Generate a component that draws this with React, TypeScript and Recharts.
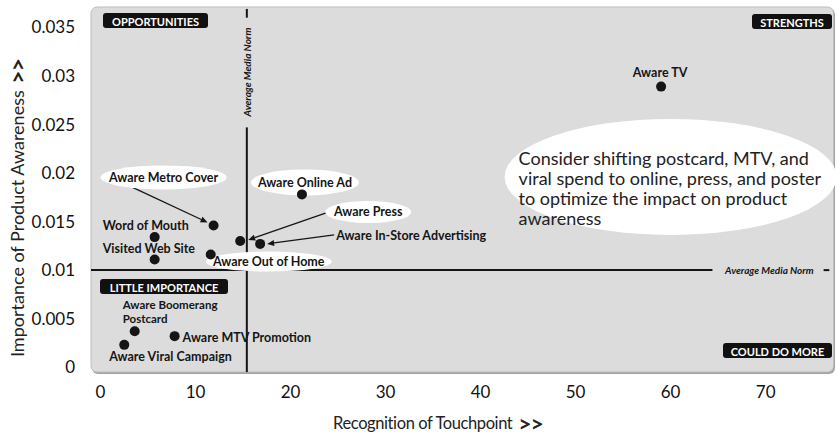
import React from 'react'
import { ScatterChart, Scatter, XAxis, YAxis, ReferenceArea, ReferenceLine, ReferenceDot } from 'recharts'

const touchpoints = [
  'Aware TV',
  'Aware Online Ad',
  'Aware Metro Cover',
  'Word of Mouth',
  'Visited Web Site',
  'Aware Press',
  'Aware In-Store Advertising',
  'Aware Out of Home',
  'Aware Boomerang Postcard',
  'Aware MTV Promotion',
  'Aware Viral Campaign',
]
const recognition = [59.0, 21.2, 11.9, 5.7, 5.7, 14.7, 16.8, 11.6, 3.6, 7.8, 2.5]
const importance = [0.0289, 0.0178, 0.0146, 0.0134, 0.0111, 0.013, 0.0127, 0.0116, 0.0037, 0.0032, 0.0023]

const xTicks = [0, 10, 20, 30, 40, 50, 60, 70]
const yTicks = [0, 0.005, 0.01, 0.015, 0.02, 0.025, 0.03, 0.035]
const normRecognition = 15.4
const normImportance = 0.01
const noteLines = [
  'Consider shifting postcard, MTV, and',
  'viral spend to online, press, and poster',
  'to optimize the impact on product',
  'awareness',
]

const X_DOMAIN: [number, number] = [-1, 77.3]
const Y_DOMAIN: [number, number] = [-0.0007, 0.0371]

const data = touchpoints.map((name, i) => ({ name, x: recognition[i], y: importance[i] }))

// label placement around each dot, in pixels
type Callout = {
  dx: number
  dy: number
  anchor?: 'start' | 'middle'
  lines?: string[]
  bubble?: [number, number]
  arrow?: [number, number, number, number]
}
const callouts: Record<string, Callout> = {
  'Aware TV': { dx: -1, dy: -14 },
  'Aware Online Ad': { dx: 3, dy: -12, bubble: [54, 13] },
  'Aware Metro Cover': { dx: -50, dy: -48, bubble: [63, 12], arrow: [-81, -38, -6, -3] },
  'Word of Mouth': { dx: -52, dy: -12, anchor: 'start' },
  'Visited Web Site': { dx: -52, dy: -11, anchor: 'start' },
  'Aware Press': { dx: 128, dy: -29, bubble: [43, 11], arrow: [86, -28, 8, -1] },
  'Aware In-Store Advertising': { dx: 76, dy: -8, anchor: 'start', arrow: [74, -9, 7, 0] },
  'Aware Out of Home': { dx: 58, dy: 7, bubble: [63, 10] },
  'Aware Boomerang Postcard': { dx: -12, dy: -27, anchor: 'start', lines: ['Aware Boomerang', 'Postcard'] },
  'Aware MTV Promotion': { dx: 8, dy: 1, anchor: 'start' },
  'Aware Viral Campaign': { dx: -15, dy: 12, anchor: 'start' },
}

const FONT = 'Lato, "Open Sans", sans-serif'
const INK = '#151515'

const Arrow = ({ x1, y1, x2, y2 }: { x1: number; y1: number; x2: number; y2: number }) => {
  const a = Math.atan2(y2 - y1, x2 - x1)
  const len = 7
  const w = 3
  const bx = x2 - len * Math.cos(a)
  const by = y2 - len * Math.sin(a)
  const px = -Math.sin(a) * w
  const py = Math.cos(a) * w
  return (
    <g>
      <line x1={x1} y1={y1} x2={bx} y2={by} stroke={INK} strokeWidth={1.3} />
      <polygon points={`${x2},${y2} ${bx + px},${by + py} ${bx - px},${by - py}`} fill={INK} />
    </g>
  )
}

const TouchpointMark = (props: any) => {
  const { cx, cy, payload } = props
  const c = callouts[payload.name]
  const lines = c.lines ?? [payload.name]
  const tx = cx + c.dx
  const ty = cy + c.dy
  return (
    <g>
      {c.arrow && <Arrow x1={cx + c.arrow[0]} y1={cy + c.arrow[1]} x2={cx + c.arrow[2]} y2={cy + c.arrow[3]} />}
      {c.bubble && <ellipse cx={tx} cy={ty} rx={c.bubble[0]} ry={c.bubble[1]} fill="#fff" />}
      {lines.map((l, i) => (
        <text
          key={l}
          x={tx}
          y={ty + i * 14}
          textAnchor={c.anchor ?? 'middle'}
          dominantBaseline="central"
          fontFamily={FONT}
          fontWeight={700}
          fontSize={lines.length > 1 ? 11.5 : 12.5}
          fill={INK}
        >
          {l}
        </text>
      ))}
      <circle cx={cx} cy={cy} r={5} fill={INK} />
    </g>
  )
}

const Panel = (props: any) => {
  const { x, y, width, height } = props
  return (
    <g>
      <rect x={x + 1} y={y + 1.5} width={width - 1} height={height - 1.5} rx={6} fill="#a3a3a3" />
      <rect x={x} y={y} width={width - 1.5} height={height - 2} rx={6} fill="#dcdcdc" stroke="#bdbdbd" />
    </g>
  )
}

const tag = (text: string, w: number, ox: number, oy: number) => (props: any) => {
  const x = props.cx + ox
  const y = props.cy + oy
  return (
    <g>
      <rect x={x} y={y} width={w} height={15} rx={3} fill="#111" />
      <text
        x={x + w / 2}
        y={y + 8}
        textAnchor="middle"
        dominantBaseline="central"
        fontFamily={FONT}
        fontWeight={700}
        fontSize={11}
        fill="#fff"
      >
        {text}
      </text>
    </g>
  )
}

const NormText = ({ cx, cy, vertical }: any) => (
  <text
    x={cx}
    y={cy}
    transform={vertical ? `rotate(-90 ${cx} ${cy})` : undefined}
    textAnchor="middle"
    dominantBaseline="central"
    fontFamily={FONT}
    fontStyle="italic"
    fontWeight={700}
    fontSize={10}
    fill={INK}
  >
    Average Media Norm
  </text>
)

const Note = (props: any) => {
  const { cx, cy } = props
  return (
    <g>
      <ellipse cx={cx} cy={cy} rx={166} ry={58} fill="#fff" />
      {noteLines.map((l, i) => (
        <text key={l} x={cx - 152} y={cy - 19 + i * 20} fontFamily={FONT} fontSize={18} fill="#222" dominantBaseline="central">
          {l}
        </text>
      ))}
    </g>
  )
}

const XTitle = ({ viewBox }: any) => {
  const vb = viewBox ?? { x: 91, y: 374, width: 744 }
  return (
    <text
      x={438}
      y={vb.y + 49}
      textAnchor="middle"
      dominantBaseline="central"
      fontFamily={FONT}
      fontSize={16.5}
      letterSpacing={-0.4}
      fill="#222"
    >
      Recognition of Touchpoint{' '}
      <tspan fontWeight={700} fontSize={23} dx={2} letterSpacing={-1}>
        {'>>'}
      </tspan>
    </text>
  )
}

const YTitle = () => (
  <text
    x={17}
    y={208}
    transform="rotate(-90 17 208)"
    textAnchor="middle"
    dominantBaseline="central"
    fontFamily={FONT}
    fontSize={18}
    fill="#222"
  >
    Importance of Product Awareness{' '}
    <tspan fontWeight={700} fontSize={23} dx={2} letterSpacing={-1}>
      {'>>'}
    </tspan>
  </text>
)

export default function App() {
  return (
    <div style={{ position: 'absolute', left: 0, top: 0, width: 838, height: 437, background: '#fff' }}>
      <ScatterChart width={838} height={437} margin={{ top: 7, right: 3, bottom: 0, left: 0 }} style={{ fontFamily: FONT }}>
        <XAxis
          type="number"
          dataKey="x"
          domain={X_DOMAIN}
          ticks={xTicks}
          allowDataOverflow
          axisLine={false}
          tickLine={false}
          tickSize={0}
          tickMargin={12}
          height={63}
          tick={{ fill: '#111', fontSize: 17, fontFamily: FONT }}
          label={<XTitle />}
        />
        <YAxis
          type="number"
          dataKey="y"
          domain={Y_DOMAIN}
          ticks={yTicks}
          allowDataOverflow
          axisLine={false}
          tickLine={false}
          tickSize={0}
          tickMargin={16}
          width={91}
          tick={{ fill: '#111', fontSize: 17, fontFamily: FONT }}
          label={<YTitle />}
        />
        <ReferenceArea x1={X_DOMAIN[0]} x2={X_DOMAIN[1]} y1={Y_DOMAIN[0]} y2={Y_DOMAIN[1]} ifOverflow="visible" shape={Panel} />
        <ReferenceLine
          segment={[{ x: normRecognition, y: 0.0369 }, { x: normRecognition, y: 0.036 }]}
          stroke={INK}
          strokeWidth={2}
          ifOverflow="visible"
        />
        <ReferenceLine
          segment={[{ x: normRecognition, y: 0.0247 }, { x: normRecognition, y: -0.0005 }]}
          stroke={INK}
          strokeWidth={2}
          ifOverflow="visible"
        />
        <ReferenceLine
          segment={[{ x: X_DOMAIN[0], y: normImportance }, { x: 64.4, y: normImportance }]}
          stroke={INK}
          strokeWidth={2}
          ifOverflow="visible"
        />
        <ReferenceLine
          segment={[{ x: 76.1, y: normImportance }, { x: 76.7, y: normImportance }]}
          stroke={INK}
          strokeWidth={2}
          ifOverflow="visible"
        />
        <ReferenceDot x={normRecognition} y={0.0304} ifOverflow="visible" shape={(p: any) => <NormText {...p} vertical />} />
        <ReferenceDot x={70.4} y={normImportance} ifOverflow="visible" shape={(p: any) => <NormText {...p} />} />
        <ReferenceDot x={X_DOMAIN[0]} y={Y_DOMAIN[1]} ifOverflow="visible" shape={tag('OPPORTUNITIES', 105, 12, 6)} />
        <ReferenceDot x={X_DOMAIN[1]} y={Y_DOMAIN[1]} ifOverflow="visible" shape={tag('STRENGTHS', 80, -83, 7)} />
        <ReferenceDot x={X_DOMAIN[0]} y={normImportance} ifOverflow="visible" shape={tag('LITTLE IMPORTANCE', 128, 9, 9)} />
        <ReferenceDot x={X_DOMAIN[1]} y={Y_DOMAIN[0]} ifOverflow="visible" shape={tag('COULD DO MORE', 109, -112, -31)} />
        <ReferenceDot x={60} y={0.0196} ifOverflow="visible" shape={Note} />
        <Scatter data={data} shape={TouchpointMark} isAnimationActive={false} />
      </ScatterChart>
    </div>
  )
}
